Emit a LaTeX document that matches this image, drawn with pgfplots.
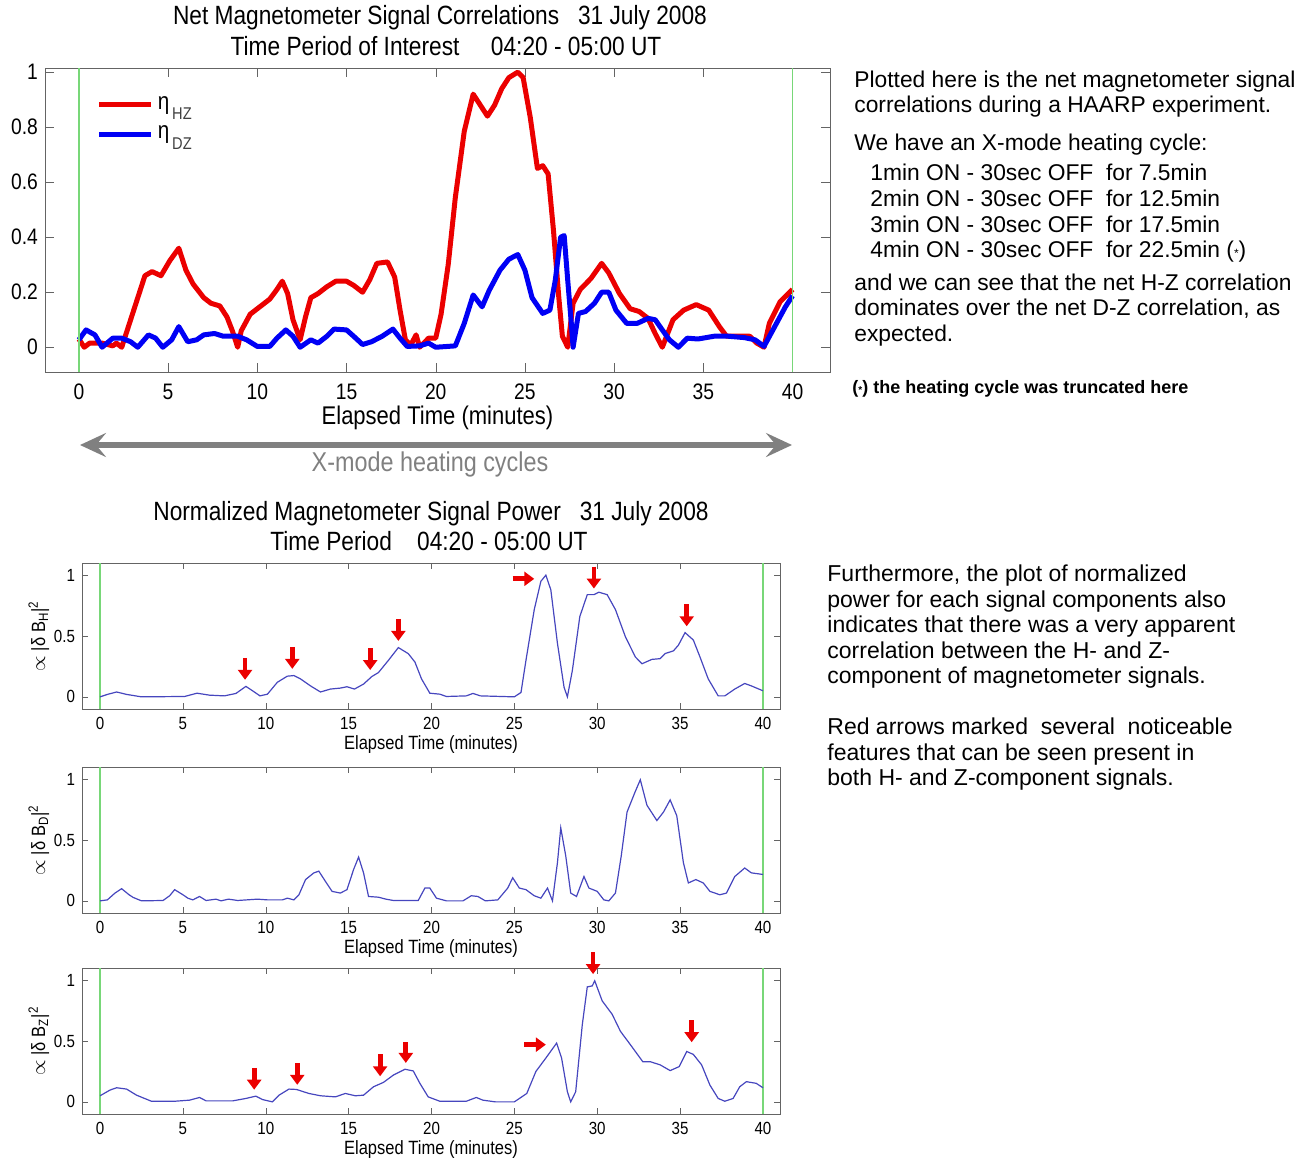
\documentclass[border=0pt]{standalone}
\usepackage{pgfplots}
\pgfplotsset{compat=1.18}
\usepackage{fontspec}
\setmainfont{Liberation Sans}
\newfontfamily\nfont[FakeStretch=0.86]{Liberation Sans}
\usetikzlibrary{arrows.meta}
\definecolor{hz}{RGB}{235,0,0}
\definecolor{dz}{RGB}{0,0,245}
\definecolor{pw}{RGB}{70,70,190}
\definecolor{gl}{RGB}{120,215,120}
\definecolor{fr}{RGB}{100,100,100}
\definecolor{ga}{RGB}{128,128,128}
\newcommand{\darr}[3]{\draw[hz, line width=2.4pt, -{Triangle[length=5pt,width=7pt]}] (axis cs:#1,#2) -- (axis cs:#1,#3);}
\newcommand{\rarr}[3]{\draw[hz, line width=2.4pt, -{Triangle[length=5pt,width=7pt]}] (axis cs:#1,#3) -- (axis cs:#2,#3);}
\pgfplotsset{
  mlab/.style={scale only axis, clip=false,
    axis line style={fr}, tick style={fr},
    /pgf/number format/assume math mode=true,
    xtick={0,5,10,15,20,25,30,35,40},
    xticklabels={0,5,10,15,20,25,30,35,40}},
  low/.style={mlab, width=349pt, height=73pt,
    xmin=-1.09, xmax=41.03, ymin=-0.1, ymax=1.1,
    ytick={0,0.5,1}, yticklabels={0,0.5,1},
    major tick length=3pt,
    tick label style={font=\nfont\fontsize{8.8}{9}\selectfont},
    label style={font=\nfont\fontsize{9.6}{10}\selectfont},
    xlabel={Elapsed Time (minutes)},
    xlabel style={yshift=4pt},
    ylabel style={yshift=-4.5pt},
    xticklabel style={yshift=-0.5pt}},
}
\begin{document}
\begin{tikzpicture}
\path[use as bounding box] (0,0) rectangle (654.5pt,-578.5pt);

% ---------------- top axis ----------------
\begin{axis}[mlab, at={(22.5pt,-34pt)}, anchor=north west,
  width=392.5pt, height=152pt,
  xmin=-1.9, xmax=42.1, ymin=-0.09, ymax=1.015,
  ytick={0,0.2,0.4,0.6,0.8,1}, yticklabels={0,0.2,0.4,0.6,0.8,1},
  tick label style={font=\nfont\fontsize{11.2}{12}\selectfont},
  xticklabel style={yshift=-2.5pt},
  xlabel={Elapsed Time (minutes)},
  xlabel style={font=\nfont\fontsize{12.8}{13}\selectfont, yshift=4pt},
  legend style={draw=none, fill=none, at={(0.058,0.935)}, anchor=north west,
    font=\nfont\fontsize{12}{13}\selectfont, row sep=3pt},
  legend cell align=left,
  legend image code/.code={\draw[#1] (0pt,0pt) -- (26pt,0pt);},
]
\addplot[hz, line width=2.5pt, line join=round] coordinates {
(0,0.03)(0.3,0.0)(0.6,0.015)(1.3,0.015)(1.9,0.005)(2.1,0.015)(2.4,0.0)(2.9,0.1)(3.3,0.18)(3.7,0.26)
(4.1,0.275)(4.6,0.26)(5.1,0.315)(5.6,0.36)(6.0,0.28)(6.4,0.23)(7.0,0.18)(7.4,0.16)(7.9,0.15)(8.3,0.11)
(8.6,0.06)(8.9,0.0)(9.1,0.06)(9.6,0.12)(10.1,0.145)(10.7,0.175)(11.1,0.21)(11.4,0.24)(11.7,0.195)(12.0,0.1)
(12.4,0.027)(12.7,0.11)(13.0,0.18)(13.4,0.195)(13.9,0.22)(14.4,0.24)(15.0,0.24)(15.4,0.225)(15.9,0.2)(16.3,0.245)
(16.7,0.305)(17.3,0.31)(17.7,0.255)(18.0,0.135)(18.3,0.027)(18.6,0.008)(18.9,0.045)(19.1,0.0)(19.6,0.033)(20.0,0.033)
(20.3,0.12)(20.7,0.30)(21.1,0.545)(21.6,0.785)(22.1,0.92)(22.5,0.88)(22.9,0.84)(23.3,0.88)(23.7,0.94)(24.1,0.98)
(24.6,1.0)(24.9,0.98)(25.3,0.835)(25.7,0.65)(26.0,0.66)(26.3,0.63)(26.6,0.425)(26.9,0.18)(27.1,0.04)(27.4,0.0)
(27.7,0.16)(28.1,0.21)(28.7,0.25)(29.3,0.305)(29.7,0.27)(30.3,0.195)(30.9,0.14)(31.4,0.13)(31.9,0.105)(32.3,0.05)
(32.7,0.0)(33.3,0.1)(33.9,0.135)(34.6,0.155)(35.3,0.135)(35.9,0.075)(36.3,0.04)(37.0,0.04)(37.6,0.04)(38.0,0.015)
(38.4,0.0)(38.7,0.087)(39.3,0.165)(40.0,0.21)};
\addlegendentry{η\raisebox{-0.8ex}{\fontsize{8.5}{9}\selectfont\color{darkgray}\,HZ}}
\addplot[dz, line width=2.5pt, line join=round] coordinates {
(0,0.027)(0.4,0.063)(0.9,0.045)(1.3,0.0)(1.9,0.033)(2.4,0.033)(2.9,0.02)(3.3,0.0)(3.9,0.045)(4.3,0.033)
(4.7,0.0)(5.2,0.027)(5.6,0.075)(6.1,0.02)(6.6,0.027)(7.0,0.045)(7.6,0.05)(8.1,0.04)(8.9,0.04)(9.4,0.027)
(10.0,0.003)(10.7,0.003)(11.1,0.033)(11.6,0.063)(12.0,0.04)(12.4,0.0)(13.0,0.027)(13.4,0.015)(13.9,0.04)(14.3,0.066)
(15.0,0.063)(15.4,0.04)(15.9,0.01)(16.4,0.02)(17.0,0.04)(17.6,0.066)(18.0,0.033)(18.4,0.003)(19.1,0.005)(19.6,0.015)
(20.0,0.0)(21.1,0.005)(21.6,0.087)(22.1,0.19)(22.6,0.147)(23.0,0.207)(23.6,0.28)(24.1,0.32)(24.6,0.337)(25.0,0.28)
(25.4,0.18)(26.0,0.123)(26.4,0.135)(26.7,0.243)(27.0,0.4)(27.2,0.406)(27.4,0.243)(27.6,0.087)(27.7,0.0)(28.0,0.123)
(28.4,0.13)(28.9,0.16)(29.3,0.2)(29.7,0.2)(30.1,0.135)(30.7,0.087)(31.3,0.087)(31.9,0.105)(32.3,0.1)(32.7,0.063)
(33.1,0.027)(33.6,0.0)(34.1,0.033)(34.7,0.03)(35.6,0.04)(36.4,0.04)(37.3,0.035)(37.9,0.027)(38.4,0.003)(39.0,0.075)
(39.6,0.147)(40.0,0.187)};
\addlegendentry{η\raisebox{-0.8ex}{\fontsize{8.5}{9}\selectfont\color{darkgray}\,DZ}}
\addplot[gl, line width=0.7pt, forget plot] coordinates {(0,-0.09)(0,1.015)};
\addplot[gl, line width=0.7pt, forget plot] coordinates {(40,-0.09)(40,1.015)};
\end{axis}

% ---------------- H power ----------------
\begin{axis}[low, at={(41pt,-281.5pt)}, anchor=north west,
  ylabel={$\propto$ |δ B\textsubscript{H}|\textsuperscript{2}}]
\addplot[gl, line width=0.7pt] coordinates {(0,-0.1)(0,1.1)};
\addplot[gl, line width=0.7pt] coordinates {(40,-0.1)(40,1.1)};
\addplot[pw, line width=0.6pt] coordinates {
(0,0)(0.44,0.02)(1.0,0.04)(1.6,0.02)(2.5,0)(5.1,0.003)(5.85,0.03)(6.6,0.014)(7.5,0.008)(8.2,0.028)
(8.8,0.086)(9.2,0.05)(9.65,0.008)(10.1,0.022)(10.7,0.12)(11.3,0.17)(11.7,0.175)(12.1,0.147)(12.7,0.09)(13.3,0.04)
(13.9,0.064)(14.5,0.072)(14.9,0.083)(15.35,0.064)(15.9,0.105)(16.4,0.167)(16.8,0.2)(17.4,0.3)(18.0,0.405)(18.6,0.355)
(19.0,0.286)(19.4,0.147)(19.9,0.03)(20.5,0.022)(20.9,0.003)(22.1,0.008)(22.5,0.028)(22.95,0.008)(25.0,0)(25.4,0.036)
(25.7,0.3)(26.2,0.717)(26.6,0.95)(26.9,1.0)(27.2,0.88)(27.6,0.44)(28.0,0.078)(28.2,0)(28.5,0.217)(28.95,0.66)
(29.4,0.84)(29.8,0.84)(30.1,0.86)(30.6,0.84)(31.1,0.717)(31.7,0.494)(32.3,0.328)(32.7,0.272)(33.3,0.308)(33.8,0.314)
(34.1,0.356)(34.6,0.378)(34.9,0.425)(35.3,0.528)(35.8,0.467)(36.2,0.328)(36.7,0.147)(37.3,0.008)(37.7,0.008)(38.3,0.064)
(38.9,0.11)(39.3,0.09)(40.0,0.05)};
\darr{8.75}{0.32}{0.14}
\darr{11.6}{0.41}{0.23}
\darr{16.3}{0.40}{0.22}
\darr{18.0}{0.64}{0.46}
\rarr{24.9}{26.2}{0.97}
\darr{29.8}{1.07}{0.89}
\darr{35.4}{0.76}{0.58}
\end{axis}

% ---------------- D power ----------------
\begin{axis}[low, at={(41pt,-383.5pt)}, anchor=north west,
  ylabel={$\propto$ |δ B\textsubscript{D}|\textsuperscript{2}}]
\addplot[gl, line width=0.7pt] coordinates {(0,-0.1)(0,1.1)};
\addplot[gl, line width=0.7pt] coordinates {(40,-0.1)(40,1.1)};
\addplot[pw, line width=0.6pt] coordinates {
(0,0)(0.44,0.008)(0.9,0.064)(1.3,0.1)(1.75,0.05)(2.0,0.028)(2.5,0)(3.8,0.003)(4.2,0.042)(4.5,0.092)
(5.0,0.05)(5.3,0.022)(5.6,0.008)(6.0,0.036)(6.4,0.003)(7.0,0.014)(7.3,0)(7.75,0.014)(8.3,0.003)(9.5,0.014)
(10.1,0.008)(11.0,0.008)(11.3,0.022)(11.7,0.008)(12.0,0.05)(12.4,0.175)(12.9,0.23)(13.2,0.244)(13.6,0.16)(14.0,0.078)
(14.5,0.064)(14.9,0.092)(15.3,0.258)(15.6,0.36)(15.9,0.23)(16.2,0.036)(16.8,0.03)(17.25,0.014)(17.7,0.003)(19.2,0.003)
(19.6,0.105)(19.9,0.105)(20.3,0.022)(20.9,0)(21.9,0)(22.4,0.042)(22.8,0.036)(23.25,0)(24.0,0.008)(24.6,0.105)
(24.9,0.19)(25.3,0.105)(25.7,0.092)(26.2,0.042)(26.6,0.022)(27.0,0.105)(27.3,0)(27.6,0.314)(27.8,0.6)(28.1,0.37)
(28.4,0.064)(28.75,0.036)(29.2,0.2)(29.5,0.105)(30.0,0.078)(30.4,0.008)(30.7,0)(31.1,0.064)(31.45,0.37)(31.8,0.73)
(32.3,0.9)(32.6,0.995)(33.0,0.786)(33.6,0.66)(34.0,0.73)(34.4,0.83)(34.8,0.7)(35.2,0.314)(35.5,0.147)(35.95,0.175)
(36.4,0.147)(36.8,0.078)(37.4,0.05)(37.8,0.064)(38.3,0.2)(38.9,0.27)(39.3,0.23)(40.0,0.217)};
\end{axis}

% ---------------- Z power ----------------
\begin{axis}[low, at={(41pt,-484pt)}, anchor=north west,
  ylabel={$\propto$ |δ B\textsubscript{Z}|\textsuperscript{2}}]
\addplot[gl, line width=0.7pt] coordinates {(0,-0.1)(0,1.1)};
\addplot[gl, line width=0.7pt] coordinates {(40,-0.1)(40,1.1)};
\addplot[pw, line width=0.6pt] coordinates {
(0,0.05)(0.6,0.097)(1.0,0.116)(1.6,0.105)(2.2,0.055)(3.1,0.005)(4.5,0.005)(5.4,0.014)(6.0,0.036)(6.4,0.008)
(8.0,0.008)(8.8,0.028)(9.4,0.047)(9.8,0.019)(10.4,0)(10.8,0.055)(11.4,0.105)(11.85,0.102)(12.6,0.069)(13.3,0.05)
(14.2,0.041)(14.8,0.069)(15.4,0.05)(15.9,0.055)(16.5,0.124)(17.1,0.16)(17.7,0.22)(18.4,0.268)(18.9,0.254)(19.3,0.152)
(19.8,0.041)(20.5,0.005)(22.1,0.005)(22.7,0.036)(23.1,0.014)(23.85,0)(25.0,0)(25.75,0.069)(26.3,0.25)(26.9,0.36)
(27.55,0.483)(27.85,0.36)(28.2,0.083)(28.4,0)(28.7,0.083)(29.1,0.635)(29.4,0.945)(29.7,0.953)(29.85,0.995)(30.3,0.83)
(30.9,0.72)(31.4,0.58)(32.0,0.47)(32.75,0.33)(33.2,0.33)(33.8,0.304)(34.4,0.257)(34.95,0.29)(35.4,0.414)(35.8,0.39)
(36.3,0.304)(36.8,0.138)(37.3,0.028)(37.7,0.005)(38.2,0.028)(38.6,0.124)(39.0,0.166)(39.6,0.152)(40.0,0.116)};
\darr{9.3}{0.28}{0.10}
\darr{11.9}{0.32}{0.14}
\darr{16.9}{0.39}{0.21}
\darr{18.45}{0.49}{0.32}
\rarr{25.6}{26.9}{0.47}
\darr{29.75}{1.23}{1.05}
\darr{35.7}{0.67}{0.49}
\end{axis}

% ---------------- texts ----------------
\begin{scope}[x=0.5pt,y=-0.5pt]
\draw[ga, line width=3pt, {Stealth[length=13pt,width=12pt,inset=5pt]}-{Stealth[length=13pt,width=12pt,inset=5pt]}] (80,445) -- (792,445);
\node[text=ga, font=\nfont\fontsize{13.6}{14}\selectfont] at (430,464) {X-mode heating cycles};

\begin{scope}[every node/.style={font=\nfont\fontsize{13.2}{14}\selectfont, inner sep=0pt}]
\node at (440,18) {Net Magnetometer Signal Correlations\ \ \ 31 July 2008};
\node at (446,46) {Time Period of Interest\ \ \ \ \ 04:20 - 05:00 UT};
\node at (431,514) {Normalized Magnetometer Signal Power\ \ \ 31 July 2008};
\node at (429,541) {Time Period\ \ \ \ 04:20 - 05:00 UT};
\end{scope}

\begin{scope}[every node/.style={font=\fontsize{11.4}{12}\selectfont, anchor=base west, inner sep=0pt}]
\node at (854,87) {Plotted here is the net magnetometer signal};
\node at (854,112) {correlations during a HAARP experiment.};
\node at (854,150) {We have an X-mode heating cycle:};
\node at (870,180) {1min ON - 30sec OFF\ \ for 7.5min};
\node at (870,206) {2min ON - 30sec OFF\ \ for 12.5min};
\node at (870,232) {3min ON - 30sec OFF\ \ for 17.5min};
\node at (870,257) {4min ON - 30sec OFF\ \ for 22.5min ({\fontsize{6}{6}\selectfont *})};
\node at (854,290) {and we can see that the net H-Z correlation};
\node at (854,315) {dominates over the net D-Z correlation, as};
\node at (854,341) {expected.};
\node[font=\bfseries\fontsize{9}{9}\selectfont] at (852,393) {({\fontsize{5}{5}\selectfont *}) the heating cycle was truncated here};
\end{scope}
\begin{scope}[every node/.style={font=\fontsize{11.5}{12}\selectfont, anchor=base west, inner sep=0pt}]
\node at (827,581) {Furthermore, the plot of normalized};
\node at (827,607) {power for each signal components also};
\node at (827,632) {indicates that there was a very apparent};
\node at (827,658) {correlation between the H- and Z-};
\node at (827,683) {component of magnetometer signals.};
\node at (827,734) {Red arrows marked\ \ several\ \ noticeable};
\node at (827,760) {features that can be seen present in};
\node at (827,785) {both H- and Z-component signals.};
\end{scope}
\end{scope}
\end{tikzpicture}
\end{document}
